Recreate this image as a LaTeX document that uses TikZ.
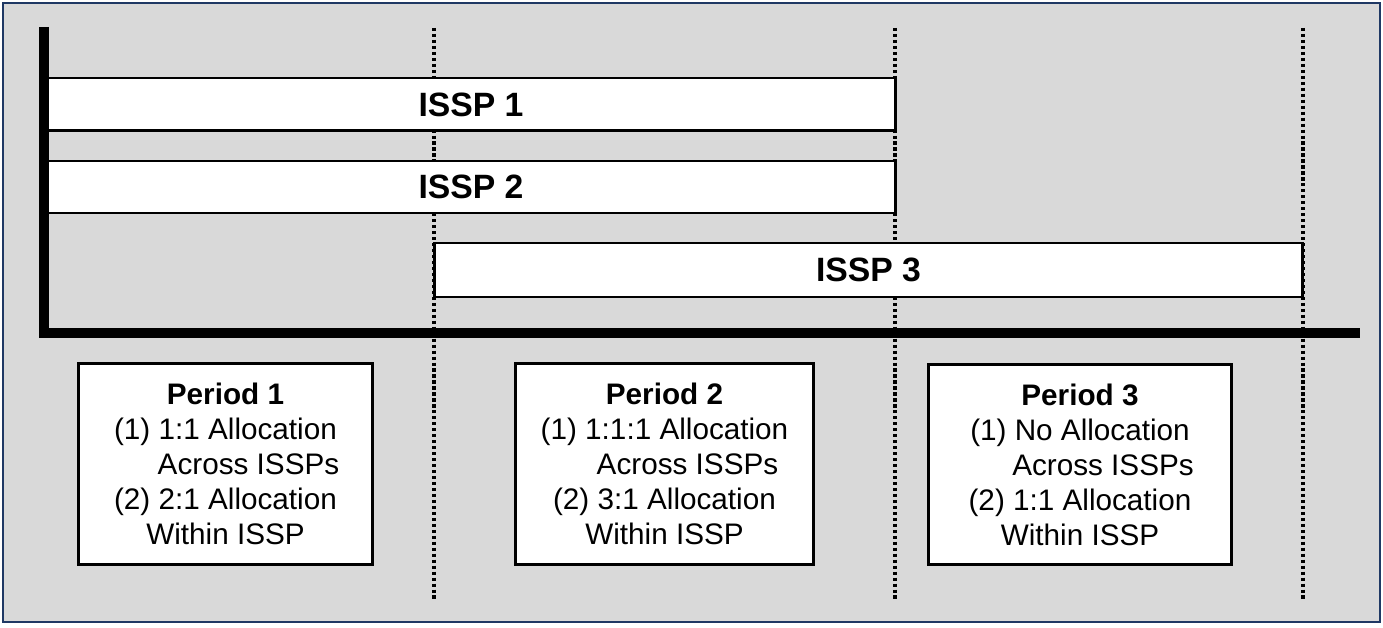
\documentclass[tikz,border=0pt]{standalone}
\usepackage{fontspec}
\setmainfont{Liberation Sans}
\usetikzlibrary{positioning}
\definecolor{bggray}{RGB}{217,217,217}
\definecolor{framenavy}{RGB}{31,56,100}

\begin{document}
\begin{tikzpicture}[x=0.02cm,y=-0.02cm,
    bar/.style={draw,fill=white,line width=1.7pt,minimum height=1.06cm,
      font=\fontsize{19.2}{23}\selectfont\bfseries,inner sep=0pt},
    period/.style={draw,fill=white,line width=1.7pt,minimum height=4.04cm,
      align=center,font=\fontsize{16.9}{19.9}\selectfont,inner sep=0pt},
    tick/.style={line width=2pt,dash pattern=on 1.8pt off 1.6pt},
    axis/.style={line width=5.4pt}]
   \useasboundingbox (0,0) rectangle (1383,628);
   \draw[fill=bggray,draw=framenavy,line width=1.1pt] (3,3) rectangle (1380,622);
   \foreach \x [count=\i] in {434,895,1303} {
     \coordinate (t\i) at (\x,28);
     \coordinate (b\i) at (\x,600);
     \draw[tick] (t\i) -- (b\i);
   }
   \coordinate (ytop) at (44,27);
   \coordinate (o) at (44,333);
   \coordinate (xend) at (1360,333);
   \node[bar,minimum width=17cm] (issp1) at (471,104.5) {ISSP 1};
   \node[bar,minimum width=17cm,minimum height=1.04cm] (issp2) at (471,187) {ISSP 2};
   \node[bar,minimum width=17.38cm,minimum height=1.08cm] (issp3) at (868.5,270) {ISSP 3};
   \draw[axis] (ytop) -- ([yshift=-2.7pt]o);
   \draw[axis] ([xshift=-2.7pt]o) -- (xend);
   \node[period,minimum width=5.9cm] (p1) at (225.5,464)
     {\textbf{Period 1}\\(1) 1:1 Allocation\\\hspace*{0.92cm}Across ISSPs\\(2) 2:1 Allocation\\Within ISSP};
   \node[period,minimum width=5.98cm] (p2) at (664.5,464)
     {\textbf{Period 2}\\(1) 1:1:1 Allocation\\\hspace*{0.92cm}Across ISSPs\\(2) 3:1 Allocation\\Within ISSP};
   \node[period,minimum width=6.08cm,minimum height=4cm] (p3) at (1080,464.5)
     {\textbf{Period 3}\\(1) No Allocation\\\hspace*{0.92cm}Across ISSPs\\(2) 1:1 Allocation\\Within ISSP};
\end{tikzpicture}
\end{document}
